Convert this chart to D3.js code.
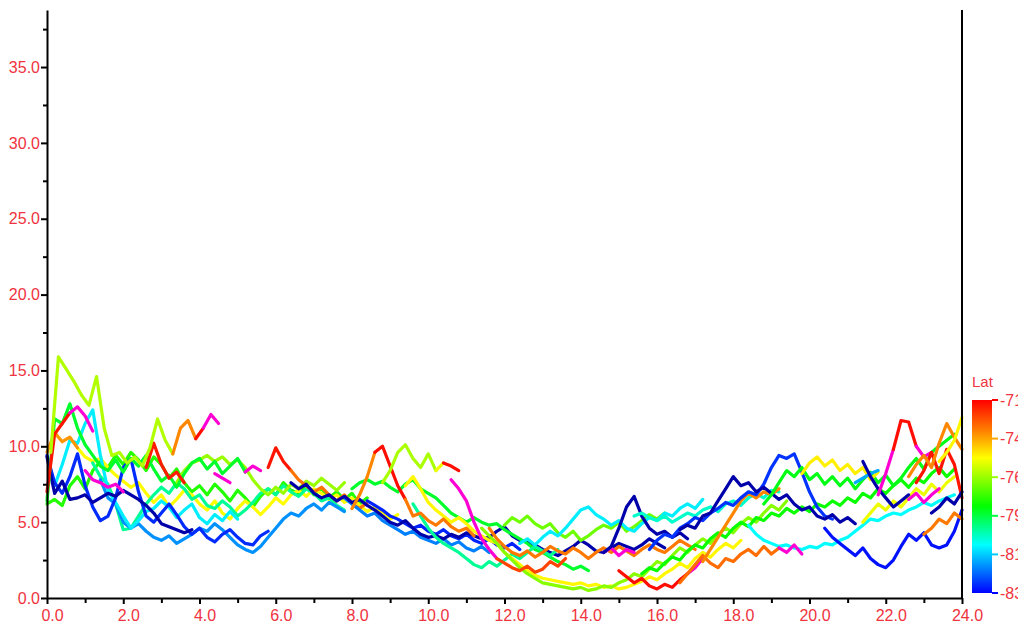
<!DOCTYPE html>
<html>
<head>
<meta charset="utf-8">
<script src="https://cdn.jsdelivr.net/npm/d3@7"></script>
<style>
  body { margin: 0; background: #fff; }
  svg { display: block; font-family: "Liberation Sans", Arial, sans-serif; }
  .axis path, .axis line { stroke: #000; stroke-width: 2; }
  .axis text { fill: #ef3340; font-size: 16px; }
  .track { fill: none; stroke-width: 3.2; stroke-linejoin: round; stroke-linecap: round; }
</style>
</head>
<body>
<script>
// sampling interval of every track (hours)
const step = 0.2;

const xMajor = [0, 2, 4, 6, 8, 10, 12, 14, 16, 18, 20, 22, 24];
const xMinor = [1, 3, 5, 7, 9, 11, 13, 15, 17, 19, 21, 23];
const yMajor = [0, 5, 10, 15, 20, 25, 30, 35];
const yMinor = [2.5, 7.5, 12.5, 17.5, 22.5, 27.5, 32.5, 37.5];
const latTicks = [-71, -73.4, -75.8, -78.2, -80.6, -83];
const latLabels = ["-71", "-74", "-76", "-79", "-81", "-83"];

// left cluster
const trA1 = [9.6, 15.9, 15.1, 14.3, 13.4, 12.7, 14.6, 11.2, 9.4, 9.6, 8.9, 9.3, 8.7, 9.9, 11.8, 10.4, 9.5];
const trA2 = [9.5, 11.2, 11.7, 10.5];
const trA3 = [10.5, 11.2];
const trA4 = [11.2, 12.1, 11.5];
const trB1 = [7.0, 10.8, 11.5, 12.2];
const trB2 = [12.2, 12.6, 12.0, 11.0];
const trC1 = [6.4, 11.8, 11.5, 12.8, 11.2, 10.1, 9.4, 8.7, 8.4, 9.1, 8.3, 9.2, 8.7, 9.4, 8.5, 7.7, 8.1, 7.3, 8.2, 8.9, 9.2, 8.5, 9.0, 8.2, 8.7, 9.2, 8.3];
const trC2 = [6.2, 6.5, 6.1, 7.4, 8.0, 7.2, 8.4, 9.0, 8.6, 9.4, 8.8, 9.6, 9.1, 8.4, 9.3, 8.8, 7.9, 8.5, 7.6, 7.0, 7.4, 6.8, 7.5, 7.0, 6.4, 7.1, 6.6, 6.0, 6.7, 7.2, 6.8, 7.6, 7.1, 6.9, 7.4, 6.8, 7.2, 6.6, 7.0, 6.5, 6.9, 6.2, 6.6];
const trD1 = [9.6, 10.9, 10.3, 10.6, 9.9];
const trD2 = [9.9, 9.3, 9.0, 9.2, 8.6, 8.1, 7.7, 7.3, 7.6, 6.9, 6.3, 6.8, 6.0, 6.5, 7.1, 6.8, 6.2, 5.8, 6.4, 5.6, 5.2, 5.9, 6.4, 6.0, 5.5, 6.0, 6.6, 6.2, 6.8, 7.1, 6.7, 7.2, 6.9, 6.5, 6.8, 6.3, 6.6, 6.1, 5.7, 6.0, 5.6, 5.2, 5.5];
const trE = [7.4, 8.8, 10.4, 10.2, 11.5, 12.4, 9.4, 7.1, 6.3, 5.4, 4.6, 5.1, 5.7, 5.9, 6.4, 6.0, 5.3, 5.8, 6.2, 5.3, 4.9, 5.5, 5.1, 5.7, 5.2];
const trF = [9.4, 7.6, 6.9, 8.0, 9.5, 7.4, 6.0, 5.1, 5.4, 6.6, 8.6, 9.2, 7.0, 5.4, 5.0, 5.6, 6.2, 5.5, 4.7, 4.2, 4.6, 4.0, 3.7, 4.2, 4.5, 4.0, 3.6, 3.5, 4.1, 4.4];
const trG = [9.3, 6.9, 7.7, 6.5, 6.6, 6.8, 6.3, 6.6, 6.9, 6.7, 7.1, 6.8, 6.5, 6.1, 5.6, 4.9, 4.7, 4.5, 4.3, 4.5];
const trH = [7.8, 6.6, 6.2, 5.0, 4.6, 4.9, 4.4, 4.0, 3.8, 4.1, 3.6, 3.9, 4.2, 4.6, 4.4, 4.9, 4.5, 4.0, 3.5, 3.2, 3.0, 3.4, 4.0, 4.6, 5.2, 5.6, 5.4, 5.9, 6.2, 5.8, 6.3, 6.0, 5.7];
const trI = [8.9, 8.0, 7.5, 6.2, 4.5, 4.6, 5.4, 6.2, 6.8, 7.3, 6.9, 7.6, 7.2, 6.5, 6.8, 6.1, 5.9, 6.4, 6.0, 5.4, 5.8, 6.3, 6.9, 7.2, 6.8, 7.4, 7.0, 6.7, 7.2, 6.9, 6.4, 6.6, 6.1, 5.8];
const trJ1 = [8.6, 9.9, 9.0, 8.4];
const trJ2 = [8.4, 7.8, 7.4, 7.0, 7.3, 6.8, 6.4, 6.8, 6.2, 5.9, 6.3];
const trK = [8.6, 10.2, 8.8, 7.9, 8.3, 7.6];
const trL1 = [8.4, 7.8, 7.6, 7.3, 7.5, 7.0];
const trL2 = [8.2, 7.9, 7.6];
const trL3 = [8.3, 8.7, 8.4];
const trM = [7.6, 8.4, 8.9, 9.1, 9.4, 9.0, 9.3, 8.8, 9.1, 8.6, 7.8, 7.2, 6.8, 7.3, 6.9, 7.5, 7.2, 7.7, 7.4, 7.9, 7.5, 7.1, 7.6];

// middle
const trN = [7.6, 7.2, 7.5, 6.9, 6.6, 6.8, 6.4, 6.7, 6.3, 6.5, 6.1, 5.8, 5.4, 5.0, 4.8, 5.1, 4.6, 4.2, 4.0, 4.1, 3.9, 4.2, 4.0, 4.3, 4.1, 3.9, 4.0, 4.4, 4.7, 4.1, 3.8, 3.7, 3.5, 3.2, 3.0, 2.8, 3.1, 3.4, 3.8, 3.5, 3.1, 3.0, 3.3, 3.6, 3.4, 3.2, 3.5, 3.9, 3.6, 3.3];
const trO = [6.4, 6.1, 5.8, 5.4, 5.2, 4.9, 4.6, 4.8, 4.4, 4.2, 4.5, 4.1, 3.9, 4.2, 3.8, 3.6, 3.9, 3.5, 3.3, 3.6, 3.2];
const trP = [7.2, 7.6, 7.8, 7.5, 7.7, 7.3, 7.0, 7.5, 7.8, 7.2, 6.9, 6.6, 6.1, 5.6, 5.3, 5.0, 5.3, 5.0, 4.8, 4.9, 4.5, 4.2, 3.9, 3.6, 3.2, 3.0, 2.7, 2.4, 2.2, 1.9, 2.1, 1.8];
const trQ1 = [7.6, 8.4, 9.6, 10.1, 9.2, 8.6, 9.5, 8.4];
const trQ2 = [8.4, 8.9];
const trQ3 = [8.9, 8.7, 8.4];
const trR1 = [5.9, 6.8, 8.0, 9.6];
const trR2 = [9.6, 10.0, 8.7, 7.4, 6.5];
const trR3 = [6.5, 5.4, 5.6, 5.1, 4.8, 5.2, 4.7, 4.4, 4.6, 4.1];
const trS1 = [7.8, 7.2, 6.4, 5.0, 3.9, 3.2, 2.6];
const trS2 = [2.6, 2.3, 2.0, 1.8, 2.1, 1.7, 1.9, 2.4, 2.1, 2.6];
const trT = [7.4, 8.0, 7.2, 6.3, 5.8, 5.4, 5.0, 5.3, 4.9, 4.4, 4.1, 3.8, 3.6, 3.0, 2.6, 2.2, 1.8, 1.5, 1.3, 1.2, 1.1, 1.0, 0.9, 1.0, 0.8, 0.9, 0.7, 0.8, 0.6, 0.7, 0.9, 1.1, 1.4, 1.2, 1.6, 1.9, 2.3, 2.0, 2.6, 3.0, 2.7, 3.2, 3.6, 3.3, 3.8];
const trU = [4.6, 4.1, 3.6, 3.0, 2.5, 2.0, 1.6, 1.3, 1.0, 0.9, 0.8, 0.7, 0.6, 0.7, 0.5, 0.6, 0.8, 0.7, 1.0, 1.2, 1.6, 1.4, 1.9, 2.4, 2.2, 2.8, 3.3, 3.0, 3.5, 3.9, 3.6, 4.2, 4.6, 4.3, 4.9, 5.3, 5.0, 5.6, 6.1, 5.8, 6.4];
const trV = [3.6, 3.9, 3.5, 4.0, 4.4, 4.1, 4.6, 5.2, 5.8, 6.0, 5.5, 5.2, 4.8, 5.1, 4.6, 4.4, 4.9, 5.3, 5.1, 5.6, 5.4, 5.9, 6.2, 5.9, 6.5];
const trW = [3.0, 3.4, 4.6, 6.0, 6.7, 5.4, 4.6, 4.2, 4.4, 4.0, 4.3, 3.9];
const trKK = [4.8, 5.3, 5.0, 5.4, 4.9, 4.6, 4.9, 4.3, 4.0, 4.4, 3.8, 4.1, 4.5, 4.8, 4.6, 5.0, 4.4, 4.7, 5.1, 5.5, 5.2, 5.6];
const trLL = [4.6, 3.9, 3.4, 3.0, 2.8, 3.1, 2.7, 3.0, 3.4, 3.1, 2.9, 3.3, 3.0, 2.6, 3.0, 3.3, 3.0, 3.4, 3.1, 2.8, 3.2, 3.5, 3.2, 3.0, 3.4, 3.8, 3.5, 3.2];
const trMM = [3.0, 3.3, 2.8, 3.2, 3.0];
const trNN = [6.2, 5.4, 4.6, 4.0, 3.6, 3.3, 3.0, 2.6, 2.2, 2.0, 2.4, 2.1, 2.5, 2.9, 2.6, 3.0, 3.4, 3.1, 2.8, 3.2];
const trOO = [6.6, 6.2, 5.8, 5.4, 5.6, 5.1, 4.8, 4.5, 4.2, 4.4, 4.0, 3.8, 3.6, 3.9, 3.5, 3.7, 3.3, 3.1, 3.4, 3.0];

// right side
const trX = [5.4, 5.6, 5.3, 5.1, 5.4, 5.0, 5.3, 5.6, 5.4, 5.8, 6.0, 5.7, 6.2, 6.4, 6.1, 6.6, 6.9, 6.6, 7.1, 7.0];
const trY = [3.2, 3.8, 4.2, 4.0, 4.6, 4.9, 5.3, 5.1, 5.6, 5.9, 6.3, 6.1, 6.6, 7.0, 6.8, 7.5, 8.6, 9.4, 9.2, 9.5, 8.3, 7.0, 6.0, 5.4, 5.2];
const trZ = [4.5, 4.8, 4.6, 5.4, 5.6, 6.4, 7.2, 8.0, 7.4, 7.6, 7.0, 7.3, 6.9, 6.5, 6.8, 6.2, 5.8, 6.0, 5.4, 5.2, 5.5, 5.0, 5.3, 4.9];
const trAA = [4.6, 4.0, 3.6, 3.2, 2.8, 3.3, 2.6, 2.2, 2.0, 2.5, 3.4, 4.2, 3.8, 4.3, 3.5, 3.3, 3.5, 4.4, 5.8];
const trBB1 = [6.8, 8.2, 9.8];
const trBB2 = [9.8, 11.7, 11.6, 10.0];
const trBB3 = [10.0, 9.3, 9.6];
const trCC1 = [8.0, 8.8, 9.4, 8.6, 10.2, 11.5, 10.6, 9.8];
const trCC2 = [9.0, 9.6, 10.4, 11.9];
const trDD = [7.6, 8.4, 9.6, 8.2, 9.8, 8.8, 6.6];
const trEE = [6.2, 6.8, 7.6, 8.4, 8.0, 8.6, 7.8, 8.2, 7.5, 8.0, 7.4, 7.9, 7.2, 7.8, 8.3, 7.6, 8.1, 7.4, 7.9, 8.6, 9.2, 8.5, 9.6, 10.0, 10.4, 10.8];
const trFF1 = [8.2, 8.9, 9.3, 8.7, 9.1, 8.4, 8.8, 8.2, 8.6, 7.8, 8.3];
const trFF2 = [2.4, 3.2, 4.0, 4.8, 5.6, 6.4, 6.9, 6.6, 7.0, 6.8, 7.2];
const trGG1 = [1.0, 1.6, 2.2, 2.8, 2.3, 2.0, 2.6, 2.4, 2.9, 3.2, 2.8, 3.4, 2.9, 3.3];
const trGG2 = [3.3, 3.0, 3.5, 2.9];
const trHH1 = [1.8, 1.4, 1.0, 1.3, 0.8, 0.6, 0.9, 0.7, 1.2, 1.6];
const trHH2 = [1.6, 2.0, 2.6];
const trII = [4.8, 4.2, 3.8, 3.6, 3.4, 3.5, 3.3, 3.2, 3.4, 3.3, 3.6, 3.5, 3.8, 4.0, 4.4, 4.8, 5.2, 5.1, 5.4, 5.6, 5.5, 5.8, 6.0, 6.3, 6.1, 6.4, 6.6, 6.8];
const trJJ = [1.6, 2.0, 1.8, 2.3, 2.7, 2.5, 3.1, 3.5, 3.3, 3.9, 4.3, 4.0, 4.6, 5.0, 4.7, 5.3, 5.1, 5.6, 5.4, 5.9, 5.6, 6.0, 5.7, 6.2, 6.0, 6.4, 6.1, 6.6, 6.3, 6.9, 6.6, 7.2, 6.9, 7.4, 7.8, 7.3, 7.9, 7.6, 8.2, 8.6, 8.0, 8.5];
const trPP = [7.6, 7.9, 8.2, 8.4];
const trQQ = [9.0, 8.0, 7.2, 6.6, 6.0, 6.4, 6.8];
const trRR = [5.6, 6.0, 6.6, 6.2, 7.0];
const trSS = [6.5, 6.9, 6.3, 6.8, 7.2];
const trTT = [5.0, 5.6, 6.2, 5.8, 6.4, 6.0, 6.6, 7.2, 6.8, 7.5, 7.0, 7.6, 8.0];
const trUU = [4.2, 4.6, 5.2, 4.9, 5.6, 5.2];

// [values, latitude, start hour]
const tracks = [
  [trC2, -77.2, 0], [trD2, -74.6, 0.8], [trI, -79.0, 1.2], [trH, -81.3, 1.4],
  [trE, -80.2, 0.2], [trF, -82.5, 0], [trG, -84.0, 0], [trM, -75.8, 3.4],
  [trC1, -78.0, 0], [trD1, -73.2, 0], [trB1, -71.3, 0], [trB2, -70.0, 0.6],
  [trL1, -70.0, 1.0], [trL2, -70.0, 4.4], [trL3, -70.0, 5.2], [trK, -71.4, 2.6],
  [trA1, -75.5, 0.1], [trA2, -73.0, 3.3], [trA3, -71.2, 3.9], [trA4, -70.0, 4.1],
  [trJ1, -71.3, 5.8], [trJ2, -72.7, 6.4],
  [trOO, -81.5, 7.8], [trO, -82.6, 8.4], [trN, -84.0, 6.4], [trP, -78.0, 8.0],
  [trNN, -79.0, 9.6], [trT, -74.5, 9.4], [trU, -76.0, 11.4], [trLL, -72.8, 11.6],
  [trKK, -76.3, 12.0], [trV, -80.2, 12.4], [trMM, -70.0, 14.6], [trW, -84.0, 14.6],
  [trR1, -73.0, 8.0], [trR2, -71.2, 8.6], [trR3, -72.8, 9.4],
  [trQ1, -75.6, 8.8], [trQ2, -74.8, 10.2], [trQ3, -71.2, 10.4],
  [trS1, -70.0, 10.6], [trS2, -72.0, 11.8],
  [trJJ, -77.5, 15.6], [trII, -80.0, 18.4], [trX, -79.5, 15.4], [trHH1, -71.2, 15.0],
  [trHH2, -70.0, 16.8], [trGG1, -72.6, 16.6], [trGG2, -70.0, 19.2], [trFF2, -73.0, 17.2],
  [trY, -82.4, 15.8], [trZ, -84.0, 16.6], [trEE, -77.8, 18.8], [trFF1, -74.4, 19.8],
  [trTT, -74.8, 21.4], [trAA, -82.8, 20.4], [trPP, -81.0, 21.2], [trQQ, -84.0, 21.4],
  [trSS, -70.0, 22.6], [trBB1, -70.0, 21.8], [trBB2, -71.2, 22.2], [trBB3, -70.0, 22.8],
  [trDD, -71.3, 22.8], [trUU, -72.8, 23.0], [trCC1, -73.0, 22.6], [trCC2, -74.5, 23.4],
  [trRR, -84.0, 23.2]
];

var svg = d3.select("body").append("svg").attr("width", 1018).attr("height", 626),
    margin = {top: 10, right: 56, bottom: 28, left: 47},
    width = 1018 - margin.left - margin.right,
    height = 626 - margin.top - margin.bottom;

var x = d3.scaleLinear().domain([0, 24]).range([0, width]),
    y = d3.scaleLinear().domain([0, 38.76]).range([height, 0]);

// jet-like ramp; beyond the bar's range it runs into navy and magenta
var color = d3.scaleLinear()
    .domain([-84.5, -83, -80, -77.6, -74.6, -72.9, -71, -69.8])
    .range(["#000080", "#0000ff", "#00ffff", "#00ff00", "#ffff00", "#ff8000", "#ff0000", "#ff00ff"])
    .clamp(true);

var g = svg.append("g").attr("transform", "translate(" + margin.left + "," + margin.top + ")");

var line = start => d3.line()
    .x((d, i) => x(start + i * step))
    .y(d => y(d));

tracks.forEach(([vals, lat, start]) => {
  g.append("path")
      .datum(vals)
      .attr("class", "track")
      .attr("stroke", color(lat))
      .attr("d", line(start));
});

// axes
g.append("g")
    .attr("class", "axis")
    .attr("transform", "translate(0," + height + ")")
    .call(d3.axisBottom(x).tickValues(xMinor).tickSize(5).tickFormat(""))
    .call(a => a.select(".domain").remove());

g.append("g")
    .attr("class", "axis")
    .attr("transform", "translate(0," + height + ")")
    .call(d3.axisBottom(x).tickValues(xMajor).tickSize(6).tickSizeOuter(0).tickPadding(6).tickFormat(d3.format(".1f")))
  .selectAll("text")
    .attr("x", 5);

g.append("g")
    .attr("class", "axis")
    .call(d3.axisLeft(y).tickValues(yMinor).tickSize(4).tickFormat(""))
    .call(a => a.select(".domain").remove());

g.append("g")
    .attr("class", "axis")
    .call(d3.axisLeft(y).tickValues(yMajor).tickSize(6).tickSizeOuter(0).tickPadding(1).tickFormat(d3.format(".1f")));

g.append("line")
    .attr("x1", width).attr("x2", width)
    .attr("y1", 0).attr("y2", height)
    .attr("stroke", "#000").attr("stroke-width", 2);

// colour bar
var barX = 972, barW = 20, barTop = 400, barBottom = 593;
var lat = d3.scaleLinear().domain([-83, -71]).range([barBottom, barTop]);

var grad = svg.append("defs").append("linearGradient")
    .attr("id", "latgrad")
    .attr("x1", 0).attr("y1", 1).attr("x2", 0).attr("y2", 0);
d3.range(0, 1.0001, 0.05).forEach(f => {
  grad.append("stop")
      .attr("offset", f)
      .attr("stop-color", color(-83 + 12 * f));
});

svg.append("rect")
    .attr("x", barX).attr("y", barTop)
    .attr("width", barW).attr("height", barBottom - barTop)
    .attr("fill", "url(#latgrad)");

svg.append("text")
    .attr("x", barX).attr("y", 387)
    .attr("fill", "#ef3340")
    .style("font-size", "15px")
    .text("Lat");

var barTick = svg.selectAll(".lat-tick")
    .data(latTicks)
  .enter().append("g")
    .attr("class", "lat-tick")
    .attr("transform", d => "translate(" + (barX + barW) + "," + lat(d) + ")");

barTick.append("line")
    .attr("x2", 6)
    .attr("stroke", d => color(d))
    .attr("stroke-width", 2);

barTick.append("text")
    .attr("x", 8).attr("dy", "0.35em")
    .attr("fill", "#ef3340")
    .style("font-size", "16px")
    .text((d, i) => latLabels[i]);
</script>
</body>
</html>
